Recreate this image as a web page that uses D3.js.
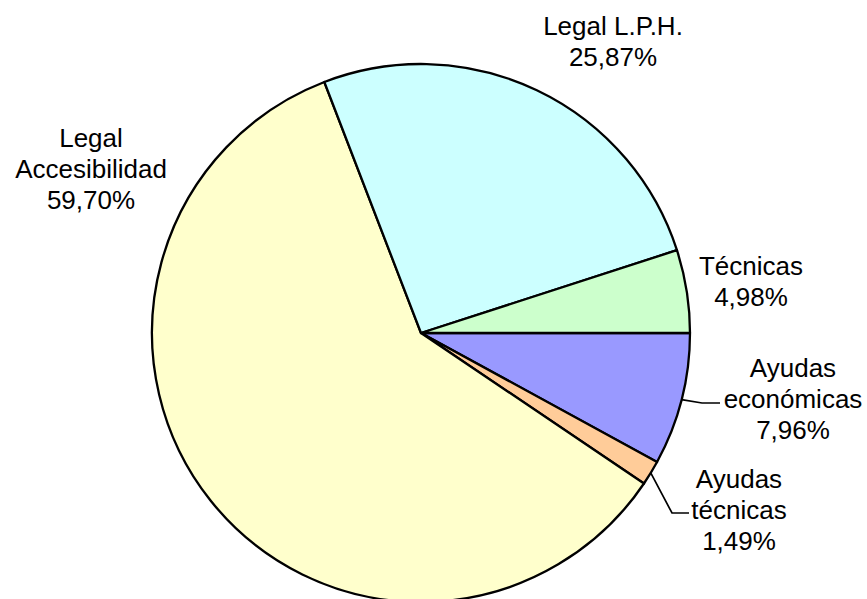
<!DOCTYPE html>
<html lang="es">
<head>
   <meta charset="UTF-8">
   <title>Pie</title>
   <script src="https://d3js.org/d3.v7.min.js"></script>
   <style>
      body { margin: 0; background: #fff; }
      text { font-family: Arial, "Liberation Sans", sans-serif; font-size: 26px; fill: #000; }
   </style>
</head>
<body>
<script>
   // slice data, in drawing order (clockwise from 3 o'clock)
   const categories = ['Ayudas económicas', 'Ayudas técnicas', 'Legal Accesibilidad', 'Legal L.P.H.', 'Técnicas'];
   const values = [7.96, 1.49, 59.70, 25.87, 4.98];
   const valueLabels = ['7,96%', '1,49%', '59,70%', '25,87%', '4,98%'];
   const labelLines = [['Ayudas', 'económicas'], ['Ayudas', 'técnicas'], ['Legal', 'Accesibilidad'], ['Legal L.P.H.'], ['Técnicas']];
   const colors = ['#9999ff', '#ffcc99', '#ffffcc', '#ccffff', '#ccffcc'];

   const width = 867, height = 599;
   const cx = 421, cy = 333, r = 269;

   // label anchor (centre x, first baseline y) and leader elbow, per slice
   const labelPos = [
      { x: 793, y: 377, elbow: [[702, 403], [720, 403]] },
      { x: 739, y: 488, elbow: [[672, 513], [689, 513]] },
      { x: 91, y: 147 },
      { x: 613, y: 35 },
      { x: 751, y: 275 }
   ];

   const svg = d3.select('body').append('svg').attr('width', width).attr('height', height);
   const g = svg.append('g').attr('transform', `translate(${cx},${cy})`);

   const pie = d3.pie().sort(null).value(d => d)
      .startAngle(Math.PI / 2).endAngle(Math.PI / 2 + 2 * Math.PI);
   const arcs = pie(values);
   const arc = d3.arc().innerRadius(0).outerRadius(r);

   g.selectAll('path.slice')
      .data(arcs)
      .enter()
      .append('path')
      .attr('class', 'slice')
      .attr('d', arc)
      .attr('fill', (d, i) => colors[i])
      .attr('stroke', '#000')
      .attr('stroke-width', 2.3)
      .attr('stroke-linejoin', 'round');

   // leader lines
   arcs.forEach((d, i) => {
      const p = labelPos[i];
      if (!p.elbow) return;
      const a = (d.startAngle + d.endAngle) / 2;
      const start = [cx + r * Math.sin(a), cy - r * Math.cos(a)];
      svg.append('path')
         .attr('d', d3.line()([start, ...p.elbow]))
         .attr('fill', 'none')
         .attr('stroke', '#000')
         .attr('stroke-width', 1.7);
   });

   // labels
   const lh = 31;
   categories.forEach((c, i) => {
      const p = labelPos[i];
      const lines = labelLines[i].concat([valueLabels[i]]);
      const t = svg.append('text').attr('text-anchor', 'middle');
      lines.forEach((ln, j) => {
         t.append('tspan').attr('x', p.x).attr('y', p.y + j * lh).text(ln);
      });
   });
</script>
</body>
</html>
